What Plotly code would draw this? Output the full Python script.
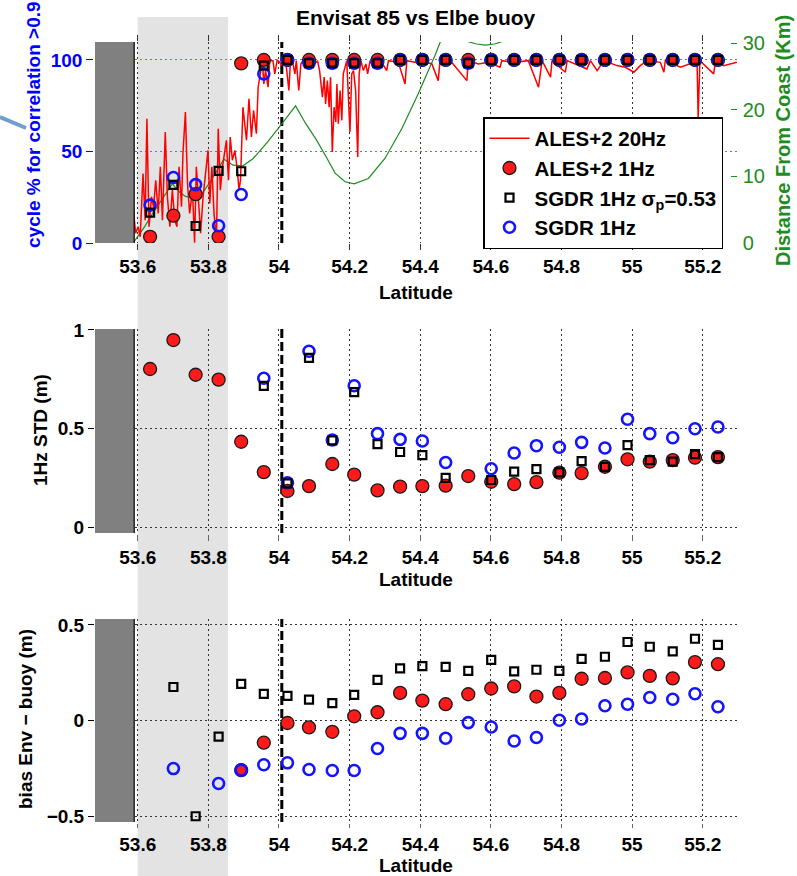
import plotly.graph_objects as go

# ---------------- data ----------------
# 1 Hz along-track latitudes (deg N)
lat_1hz = [53.635, 53.701, 53.764, 53.829, 53.893, 53.957, 54.024, 54.085, 54.151,
           54.213, 54.279, 54.343, 54.406, 54.472, 54.536, 54.601, 54.666, 54.729,
           54.794, 54.857, 54.923, 54.987, 55.050, 55.115, 55.178, 55.243]

# cycle % with correlation > 0.9
pct_ales_1hz = [3.4, 14.9, 26.7, 3.4, 98.1, 100, 100, 100, 100, 100, 100, 100, 100,
                100, 100, 100, 100, 100, 100, 100, 100, 100, 100, 100, 100, 100]
pct_sgdr_sigma = [16.6, 31.7, 9.3, 39.4, 39.2, 96.9, 100, 98.2, 98.2, 98.2, 98.2, 100, 100,
                  100, 98.2, 100, 100, 100, 100, 100, 100, 100, 100, 100, 100, 100]
pct_sgdr = [20.7, 35.8, 31.9, 9.4, 26.5, 92.4, 100, 98.2, 98.2, 98.2, 98.2, 100, 100,
            100, 98.2, 100, 100, 100, 100, 100, 100, 100, 100, 100, 100, 100]

# ALES+2 20 Hz cycle %
lat_20hz = [
    53.587, 53.594, 53.601, 53.607, 53.615, 53.621, 53.626, 53.632, 53.639, 53.645,
    53.651, 53.658, 53.664, 53.670, 53.678, 53.684, 53.691, 53.698, 53.705, 53.711,
    53.717, 53.724, 53.728, 53.735, 53.741, 53.747, 53.755, 53.761, 53.766, 53.772,
    53.778, 53.785, 53.793, 53.799, 53.804, 53.810, 53.816, 53.823, 53.828, 53.834,
    53.840, 53.846, 53.851, 53.857, 53.862, 53.868, 53.875, 53.881, 53.887, 53.891,
    53.898, 53.908, 53.915, 53.922, 53.928, 53.936, 53.941, 53.947, 53.953, 53.957,
    53.962, 53.969, 53.974, 53.983, 53.988, 53.995, 54.002, 54.008, 54.013, 54.021,
    54.028, 54.032, 54.038, 54.045, 54.049, 54.056, 54.062, 54.068, 54.076, 54.082,
    54.092, 54.101, 54.109, 54.115, 54.123, 54.128, 54.132, 54.137, 54.142, 54.146,
    54.151, 54.156, 54.161, 54.164, 54.168, 54.173, 54.178, 54.182, 54.187, 54.192,
    54.201, 54.206, 54.211, 54.217, 54.223, 54.227, 54.232, 54.239, 54.246, 54.251,
    54.258, 54.265, 54.272, 54.291, 54.305, 54.310, 54.338, 54.357, 54.362, 54.385,
    54.404, 54.433, 54.451, 54.456, 54.489, 54.532, 54.536, 54.565, 54.593, 54.626,
    54.631, 54.669, 54.706, 54.735, 54.745, 54.769, 54.773, 54.811, 54.816, 54.872,
    54.882, 54.901, 54.920, 54.957, 54.981, 55.005, 55.023, 55.042, 55.080, 55.090,
    55.094, 55.137, 55.175, 55.184, 55.187, 55.192, 55.231, 55.236, 55.259, 55.297]
pct_ales_20hz = [
    19.8, 5.3, 8.9, 3.4, 37.9, 12.5, 67.9, 8.9, 25.2, 19.8,
    34.3, 16.2, 41.6, 12.5, 60.6, 25.2, 8.9, 28.9, 12.5, 8.9,
    41.6, 19.8, 48.8, 71.5, 32.5, 16.2, 28.9, 0.2, 41.6, 25.2,
    5.3, 25.2, 39.7, 50.6, 21.6, 41.6, 16.2, 1.6, 62.4, 28.9,
    41.6, 50.6, 56.1, 34.3, 57.9, 45.2, 50.6, 41.6, 28.9, 34.3,
    74.2, 56.1, 78.8, 57.9, 72.4, 59.7, 85.1, 92.4, 99.6, 86.9,
    94.2, 85.1, 99.6, 99.6, 92.4, 100, 98.7, 96.9, 99.6, 96.0,
    83.3, 97.8, 99.6, 92.4, 99.6, 83.3, 97.8, 99.6, 96.0, 98.7,
    99.6, 97.8, 99.6, 94.2, 79.7, 90.6, 76.0, 88.7, 74.2, 90.6,
    49.7, 74.2, 66.1, 86.9, 65.2, 83.3, 67.0, 92.4, 96.0, 99.6,
    60.6, 92.4, 94.2, 83.3, 47.0, 92.4, 99.6, 94.2, 97.8, 92.4,
    99.6, 96.9, 99.6, 98.7, 94.2, 99.6, 98.7, 86.9, 99.6, 98.7,
    99.6, 97.8, 88.7, 99.6, 98.7, 88.7, 99.6, 97.8, 98.7, 96.0,
    99.6, 98.7, 99.6, 85.1, 99.6, 90.6, 99.6, 93.3, 99.6, 95.1,
    99.6, 94.2, 99.6, 96.9, 96.0, 93.3, 96.9, 99.6, 98.7, 93.3,
    99.6, 96.0, 98.7, 97.8, 68.8, 99.6, 92.4, 99.6, 96.9, 98.7]

# distance from coast along the track (km)
lat_coast = [53.587, 53.620, 53.643, 53.670, 53.698, 53.715, 53.735, 53.761, 53.785, 53.810,
             53.844, 53.870, 53.898, 53.927, 53.965, 54.002, 54.047, 54.075, 54.106, 54.135,
             54.159, 54.187, 54.213, 54.253, 54.300, 54.348, 54.395, 54.442, 54.459, 54.490,
             54.538, 54.560, 54.585, 54.610, 54.629, 54.660, 54.750, 54.900, 55.100, 55.300]
dist_coast_km = [0.0, 2.5, 4.5, 6.7, 8.9, 7.8, 7.0, 6.7, 7.6, 9.6,
                 12.6, 11.7, 11.6, 12.7, 15.0, 17.5, 20.6, 18.0, 15.5, 12.8,
                 10.5, 9.2, 8.9, 9.7, 12.7, 17.2, 22.5, 28.2, 30.5, 31.5,
                 30.2, 29.9, 29.73, 29.9, 30.2, 31.0, 33.0, 36.0, 39.0, 42.0]

# 1 Hz standard deviation (m)
std_ales_1hz = [0.802, 0.949, 0.773, 0.748, 0.433, 0.279, 0.183, 0.208, 0.320, 0.266,
                0.186, 0.205, 0.208, 0.210, 0.259, 0.230, 0.218, 0.228, 0.276, 0.274,
                0.306, 0.344, 0.332, 0.340, 0.352, 0.355]
std_sgdr_sigma = [None, None, None, None, None, 0.716, 0.222, 0.859, 0.440, 0.685,
                  0.421, 0.381, 0.365, 0.250, None, 0.239, 0.281, 0.294, 0.278, 0.335,
                  0.305, 0.416, 0.340, 0.332, 0.370, 0.355]
std_sgdr = [None, None, None, None, None, 0.755, 0.225, 0.892, 0.442, 0.717,
            0.474, 0.445, 0.437, 0.328, None, 0.296, 0.376, 0.413, 0.405, 0.430,
            0.401, 0.547, 0.474, 0.453, 0.499, 0.508]

# bias Envisat - buoy (m)
bias_ales_1hz = [None, None, None, None, -0.258, -0.115, -0.012, -0.035, -0.058, 0.023,
                 0.044, 0.145, 0.105, 0.086, 0.138, 0.168, 0.179, 0.126, 0.145, 0.219,
                 0.223, 0.252, 0.234, 0.221, 0.306, 0.295]
bias_sgdr_sigma = [None, 0.176, -0.499, -0.083, 0.192, 0.140, 0.130, 0.110, 0.092, 0.135,
                   0.213, 0.273, 0.285, 0.281, 0.260, 0.318, 0.258, 0.266, 0.260, 0.323,
                   0.334, 0.411, 0.386, 0.362, 0.428, 0.396]
bias_sgdr = [None, -0.250, None, -0.328, -0.258, -0.230, -0.220, -0.255, -0.260, -0.260,
             -0.145, -0.066, -0.066, -0.092, -0.010, -0.033, -0.106, -0.088, 0.002, 0.009,
             0.078, 0.086, 0.121, 0.112, 0.141, 0.073]

lat_ticks = [53.6, 53.8, 54.0, 54.2, 54.4, 54.6, 54.8, 55.0, 55.2]
lat_tick_text = ["53.6", "53.8", "54", "54.2", "54.4", "54.6", "54.8", "55", "55.2"]
lat_range = [53.479, 55.297]
land_edge = 53.590          # coastline mask edge
study_band = [53.600, 53.856]
buoy_lat = 54.008

# ---------------- layout geometry ----------------
W, H = 797, 876
ML, MR, MT, MB = 95, 60, 42, 54
PW, PH = W - ML - MR, H - MT - MB


def px(x):
    return (x - ML) / PW


def py(y):
    return 1 - (y - MT) / PH


FONT = "Liberation Sans, Arial, sans-serif"
RED = "#ff1a1a"
BLUE = "#1414ff"
GREEN = "#1e8c1e"
TICK_SIZE = 19
GRID_DASH = "1.5px,3.5px"


def bold(size, color="black"):
    return dict(family=FONT, size=size, color=color, weight="bold")


fig = go.Figure()

# ---- top panel: cycle % (overlaid left axis y2) and distance from coast (base axis y)
fig.add_trace(go.Scatter(x=lat_coast, y=dist_coast_km, mode="lines",
                         line=dict(color=GREEN, width=1.2), xaxis="x", yaxis="y",
                         showlegend=False, hoverinfo="skip"))
fig.add_trace(go.Scatter(x=lat_20hz, y=pct_ales_20hz, mode="lines", name="ALES+2 20Hz",
                         line=dict(color="red", width=1.5), xaxis="x", yaxis="y2",
                         legendgroup="a20", zorder=0))
fig.add_trace(go.Scatter(x=lat_1hz, y=pct_ales_1hz, mode="markers", name="ALES+2 1Hz",
                         marker=dict(symbol="circle", size=13, color=RED,
                                     line=dict(color="#1a1a1a", width=1.3)),
                         xaxis="x", yaxis="y2", legendgroup="a1", zorder=1))
fig.add_trace(go.Scatter(x=lat_1hz, y=pct_sgdr_sigma, mode="markers",
                         name="SGDR 1Hz σ<sub>p</sub>=0.53",
                         marker=dict(symbol="square-open", size=8, color="black",
                                     line=dict(color="black", width=2.2)),
                         xaxis="x", yaxis="y2", legendgroup="s1p", zorder=3))
fig.add_trace(go.Scatter(x=lat_1hz, y=pct_sgdr, mode="markers", name="SGDR 1Hz",
                         marker=dict(symbol="circle-open", size=11, color=BLUE,
                                     line=dict(color=BLUE, width=2.6)),
                         xaxis="x", yaxis="y2", legendgroup="s1", zorder=2))

# ---- middle and bottom panels
for xa, ya, ales, sig, sgdr in [("x2", "y3", std_ales_1hz, std_sgdr_sigma, std_sgdr),
                               ("x3", "y4", bias_ales_1hz, bias_sgdr_sigma, bias_sgdr)]:
    fig.add_trace(go.Scatter(x=lat_1hz, y=ales, mode="markers", showlegend=False,
                             marker=dict(symbol="circle", size=13, color=RED,
                                         line=dict(color="#1a1a1a", width=1.3)),
                             xaxis=xa, yaxis=ya, legendgroup="a1", zorder=1))
    fig.add_trace(go.Scatter(x=lat_1hz, y=sig, mode="markers", showlegend=False,
                             marker=dict(symbol="square-open", size=8, color="black",
                                         line=dict(color="black", width=2.2)),
                             xaxis=xa, yaxis=ya, legendgroup="s1p", zorder=3))
    fig.add_trace(go.Scatter(x=lat_1hz, y=sgdr, mode="markers", showlegend=False,
                             marker=dict(symbol="circle-open", size=11, color=BLUE,
                                         line=dict(color=BLUE, width=2.6)),
                             xaxis=xa, yaxis=ya, legendgroup="s1", zorder=2))

# ---------------- axes ----------------
dom_top = [py(243), 1.0]
dom_mid = [py(533), py(329)]
dom_bot = [0.0, py(619)]

xcommon = dict(range=lat_range, domain=[0, 1], tickvals=lat_ticks, ticktext=lat_tick_text,
               tickfont=bold(TICK_SIZE), ticks="outside", ticklen=6, showgrid=True,
               gridcolor="#333333", griddash=GRID_DASH, gridwidth=1, zeroline=False)

fig.update_layout(
    xaxis=dict(xcommon, anchor="y", showline=True, linecolor="black", linewidth=1.2,
               mirror="ticks", tickcolor="#333333"),
    xaxis2=dict(xcommon, anchor="y3", showline=True, linecolor="#777777", linewidth=1.5,
                tickcolor="#666666"),
    xaxis3=dict(xcommon, anchor="y4", showline=True, linecolor="#777777", linewidth=1.5,
                tickcolor="#666666", ticklen=4),
    yaxis=dict(domain=dom_top, range=[0, 30.2], side="right", anchor="x",
               tickvals=[0, 10, 20, 30], tickfont=dict(family=FONT, size=20, color=GREEN),
               ticks="inside", ticklen=6, tickcolor=GREEN, showgrid=False, zeroline=False,
               showline=True, linecolor="#2a5f88", linewidth=1.5),
    yaxis2=dict(domain=dom_top, range=[0, 109.8], side="left", overlaying="y", anchor="x",
                tickvals=[0, 50, 100], tickfont=bold(TICK_SIZE, "#0000ff"), ticks="outside",
                ticklen=7, tickcolor="#0000ff", showline=True, linecolor="#0000ff",
                linewidth=1.5, showgrid=True, gridcolor="#6a6aff", griddash=GRID_DASH,
                gridwidth=1, zeroline=False),
    yaxis3=dict(domain=dom_mid, range=[-0.03, 1.005], anchor="x2", tickvals=[0, 0.5, 1],
                ticktext=["0", "0.5", "1"], tickfont=bold(TICK_SIZE), ticks="outside",
                ticklen=6, tickcolor="black", showline=False, showgrid=True,
                gridcolor="#333333", griddash=GRID_DASH, gridwidth=1, zeroline=False),
    yaxis4=dict(domain=dom_bot, range=[-0.529, 0.531], anchor="x3",
                tickvals=[-0.5, 0, 0.5], tickfont=bold(TICK_SIZE), ticks="outside",
                ticklen=6, tickcolor="black", showline=False, showgrid=True,
                gridcolor="#333333", griddash=GRID_DASH, gridwidth=1, zeroline=False),
)

# ---------------- shapes ----------------
shapes = [
    # shaded study band across all panels
    dict(type="rect", xref="x", yref="paper", x0=study_band[0], x1=study_band[1],
         y0=py(876), y1=py(17), fillcolor="#e3e3e3", line=dict(width=0), layer="below"),
    # small pointer stroke at the left margin
    dict(type="line", xref="paper", yref="paper", x0=px(0), y0=py(117), x1=px(26), y1=py(128),
         line=dict(color="#6f9fcf", width=4), layer="below"),
]
for xr, yr in [("x", "y"), ("x2", "y3"), ("x3", "y4")]:
    shapes += [
        # buoy location
        dict(type="line", xref=xr, yref=yr + " domain", x0=buoy_lat, x1=buoy_lat,
             y0=0, y1=1, line=dict(color="black", width=3, dash="9px,4px"), layer="below"),
        # land mask
        dict(type="rect", xref=xr, yref=yr + " domain", x0=lat_range[0], x1=land_edge,
             y0=0, y1=1, fillcolor="#808080", line=dict(width=0), layer="above"),
        dict(type="line", xref=xr, yref=yr + " domain", x0=land_edge, x1=land_edge,
             y0=0, y1=1, line=dict(color="black", width=1.2), layer="above"),
    ]

# ---------------- text ----------------
annotations = [
    dict(text="Envisat 85 vs Elbe buoy", xref="paper", yref="paper", x=px(416), y=py(17),
         showarrow=False, font=bold(21), xanchor="center", yanchor="middle"),
    dict(text="cycle % for correlation >0.9", xref="paper", yref="paper", x=px(34), y=py(125),
         textangle=-90, showarrow=False, font=bold(19, "#0000ff"),
         xanchor="center", yanchor="middle"),
    dict(text="Distance From Coast (Km)", xref="paper", yref="paper", x=px(783), y=py(140),
         textangle=-90, showarrow=False, font=bold(20, GREEN),
         xanchor="center", yanchor="middle"),
    dict(text="1Hz STD (m)", xref="paper", yref="paper", x=px(40), y=py(430),
         textangle=-90, showarrow=False, font=bold(19), xanchor="center", yanchor="middle"),
    dict(text="bias Env − buoy (m)", xref="paper", yref="paper", x=px(25), y=py(719),
         textangle=-90, showarrow=False, font=bold(19), xanchor="center", yanchor="middle"),
]
for ylab in [292, 579, 865.5]:
    annotations.append(dict(text="Latitude", xref="paper", yref="paper", x=px(416), y=py(ylab),
                            showarrow=False, font=bold(19), xanchor="center",
                            yanchor="middle"))

fig.update_layout(
    width=W, height=H,
    margin=dict(l=ML, r=MR, t=MT, b=MB, pad=0),
    paper_bgcolor="white", plot_bgcolor="rgba(0,0,0,0)",
    shapes=shapes, annotations=annotations,
    showlegend=True,
    legend=dict(x=px(483), y=py(117), xanchor="left", yanchor="top",
                bgcolor="white", bordercolor="black", borderwidth=1.5,
                font=bold(20.5), tracegroupgap=1, traceorder="normal",
                itemwidth=40),
    font=dict(family=FONT),
)

fig.write_html("out.html")
